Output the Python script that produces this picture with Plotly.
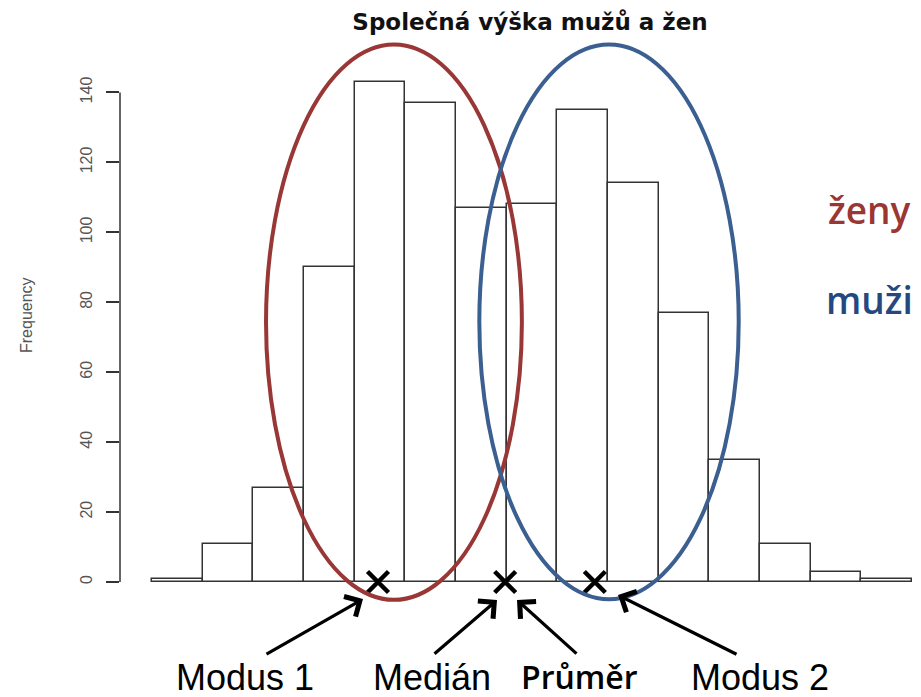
import plotly.graph_objects as go

# ---- data ----
bin_mid = [0.5, 1.5, 2.5, 3.5, 4.5, 5.5, 6.5, 7.5, 8.5, 9.5, 10.5, 11.5, 12.5, 13.5, 14.5]
counts = [1, 11, 27, 90, 143, 137, 107, 108, 135, 114, 77, 35, 11, 3, 1]
y_ticks = [0, 20, 40, 60, 80, 100, 120, 140]
stat_x = [4.46, 6.97, 8.74]          # Modus 1, Medián/Průměr, Modus 2
stat_y = [0, 0, 0]

title_text = "Společná výška mužů a žen"
y_title = "Frequency"

RED = "#983735"
BLUE = "#3A5F90"

OFF = 8  # page body margin
W, H = 921 - OFF, 697 - OFF
ML, MR, MT, MB = 120 - OFF, 9, 40 - OFF, 87
PW, PH = W - ML - MR, H - MT - MB


def px(xp, yp):
    """reference-window pixel -> paper coords"""
    return (xp - OFF - ML) / PW, (H - MB - (yp - OFF)) / PH


fig = go.Figure()
fig.add_trace(go.Bar(
    x=bin_mid, y=counts, width=1,
    marker=dict(color="white", line=dict(color="#333333", width=1.5)),
    hoverinfo="skip", showlegend=False,
))

# ellipses (women / men)
fig.add_shape(type="circle", xref="x", yref="y", x0=2.25, x1=7.30, y0=-5.1, y1=153.7,
              line=dict(color=RED, width=4), layer="above")
fig.add_shape(type="circle", xref="x", yref="y", x0=6.46, x1=11.58, y0=-4.9, y1=153.7,
              line=dict(color=BLUE, width=4), layer="above")

fig.add_trace(go.Scatter(
    x=stat_x, y=stat_y, mode="markers",
    marker=dict(symbol="x-thin", size=21, line=dict(color="black", width=4.5)),
    hoverinfo="skip", showlegend=False, cliponaxis=False,
))

# y axis line (from 0 to 140 like R)
fig.add_shape(type="line", xref="paper", yref="y", x0=0, x1=0, y0=y_ticks[0], y1=y_ticks[-1],
              line=dict(color="#333333", width=1.5))

annotations = []
# arrows
for (tx, ty), (ax, ay) in [((363, 599), (-98, 56)), ((497, 600), (-64, 55)),
                           ((517, 600), (61, 55)), ((618, 595), (120, 60))]:
    xp, yp = px(tx, ty)
    annotations.append(dict(xref="paper", yref="paper", x=xp, y=yp, ax=ax, ay=ay,
                            text="", showarrow=True, arrowhead=4, arrowsize=1.4,
                            arrowwidth=3.2, arrowcolor="black"))

label_font = dict(family="Liberation Sans, Arial, sans-serif", size=36, color="black")
for text, cx, cy, fnt in [("Modus 1", 245, 677, label_font), ("Medián", 432, 677, label_font),
                          ("Modus 2", 760, 677, label_font),
                          ("Průměr", 579, 676, dict(family="Open Sans, sans-serif", size=32,
                                                    color="black", weight=600))]:
    xp, yp = px(cx, cy)
    annotations.append(dict(xref="paper", yref="paper", x=xp, y=yp, text=text,
                            showarrow=False, xanchor="center", yanchor="middle", font=fnt))

for text, cy, col in [("ženy", 209, "#9A3733"), ("muži", 299, "#24487F")]:
    xp, yp = px(869, cy)
    annotations.append(dict(xref="paper", yref="paper", x=xp, y=yp, text=text,
                            showarrow=False, xanchor="center", yanchor="middle",
                            font=dict(family="Open Sans, sans-serif", size=37, color=col,
                                      weight=600)))

xp, yp = px(27, 315)
annotations.append(dict(xref="paper", yref="paper", x=xp, y=yp, text=y_title,
                        showarrow=False, textangle=-90, xanchor="center", yanchor="middle",
                        font=dict(family="Liberation Sans, Arial, sans-serif", size=16,
                                  color="#555555")))

fig.update_layout(
    width=W, height=H,
    margin=dict(l=ML, r=MR, t=MT, b=MB, pad=0),
    paper_bgcolor="white", plot_bgcolor="white",
    bargap=0,
    title=dict(text=f"<b>{title_text}</b>", x=(530 - OFF) / W, xref="container",
               xanchor="center", y=1 - (22 - OFF) / H, yref="container", yanchor="middle",
               font=dict(family="DejaVu Sans, sans-serif", size=23, color="#111111")),
    xaxis=dict(range=[-0.632, 15], visible=False, showgrid=False, zeroline=False),
    yaxis=dict(range=[-8, 155], tickvals=y_ticks, ticktext=[str(v) for v in y_ticks],
               showgrid=False, zeroline=False, showline=False,
               ticks="outside", ticklen=13, tickwidth=1.5, tickcolor="#333333",
               ticklabelstandoff=8,
               tickangle=-90, tickfont=dict(family="Liberation Sans, Arial, sans-serif",
                                            size=16, color="#555555")),
    annotations=annotations,
    showlegend=False,
)

fig.write_html("out.html")
